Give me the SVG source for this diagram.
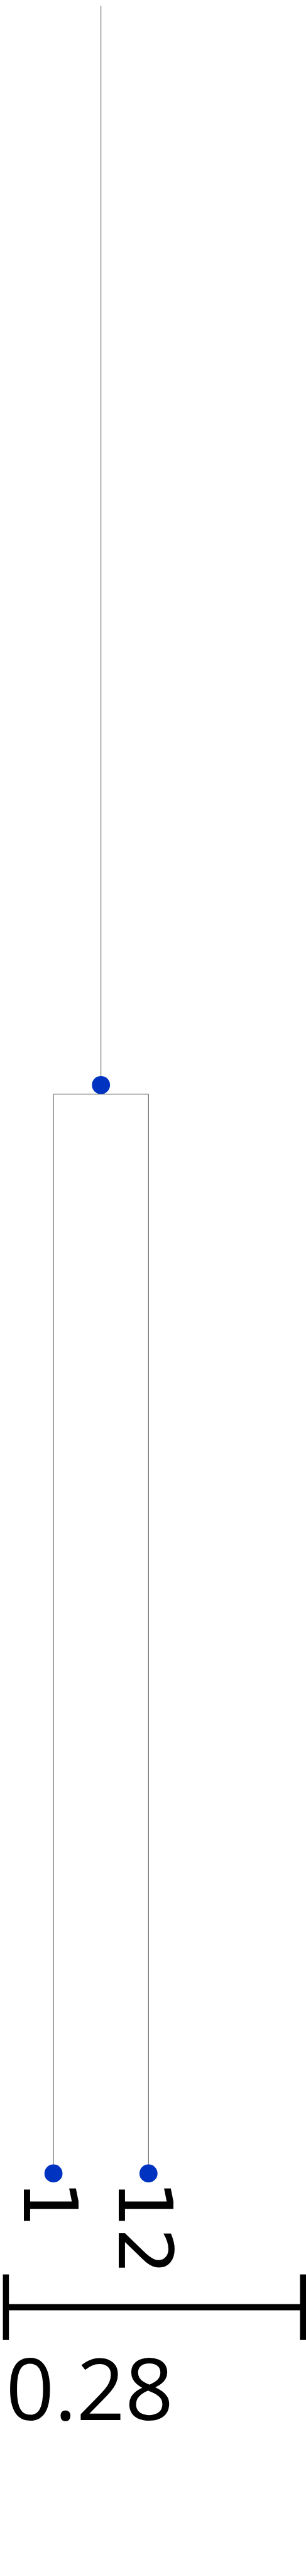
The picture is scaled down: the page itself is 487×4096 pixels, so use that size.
<svg xmlns="http://www.w3.org/2000/svg" width="487" height="4096" viewBox="0 0 487 4096">
<style>
.br{stroke:#555;stroke-width:1;fill:none}
.dot{fill:#0033c0}
.lbl{font-family:"DejaVu Sans",sans-serif;font-size:118.7px;fill:#000}
.sb{stroke:#000;stroke-width:9.6;fill:none}
.st{font-family:"Open Sans","Noto Sans",sans-serif;font-size:135px;fill:#000}
</style>
<rect width="487" height="4096" fill="#fff"/>
<g id="connectors">
<line class="br" x1="160.7" y1="9.2" x2="160.7" y2="1739.8"/>
<polyline class="br" points="85.1,3455.9 85.1,1739.8 236.3,1739.8 236.3,3455.9"/>
</g>
<g id="node-root"><circle class="dot" cx="160.7" cy="1725.3" r="14.4"/></g>
<g id="node-1">
<circle class="dot" cx="85.1" cy="3455.9" r="14.4"/>
<text class="lbl" transform="translate(37.6,3466.8) rotate(90)">1</text>
</g>
<g id="node-12">
<circle class="dot" cx="236.3" cy="3455.9" r="14.4"/>
<text class="lbl" transform="translate(189,3466.8) rotate(90)">12</text>
</g>
<g id="scale">
<line class="sb" x1="9.4" y1="3668.6" x2="482.2" y2="3668.6"/>
<line class="sb" x1="9.4" y1="3616.6" x2="9.4" y2="3720.7"/>
<line class="sb" x1="482.2" y1="3616.6" x2="482.2" y2="3720.7"/>
<text class="st" x="9.2" y="3847.8">0.28</text>
</g>
</svg>
